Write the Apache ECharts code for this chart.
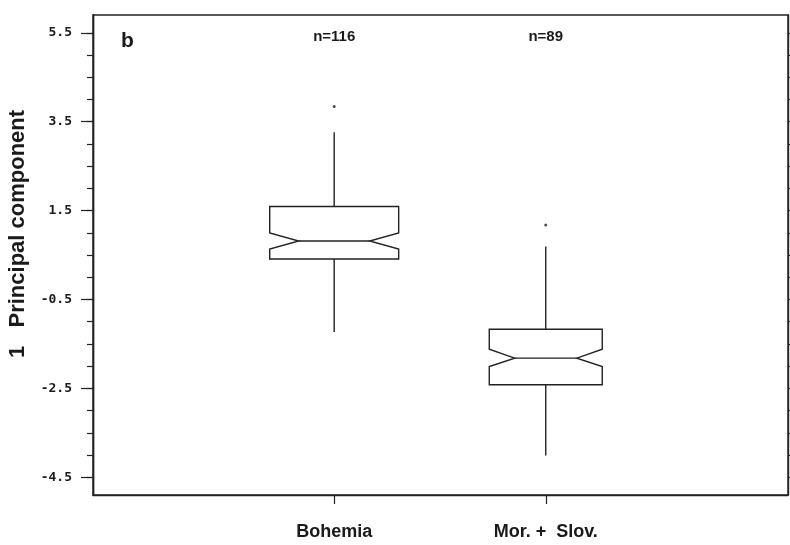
<!DOCTYPE html>
<html><head><meta charset="utf-8">
<script src="https://cdn.jsdelivr.net/npm/echarts@6/dist/echarts.min.js"></script>
<style>html,body{margin:0;padding:0;background:#fff}#c{width:790px;height:545px}</style>
</head><body><div id="c"></div>
<script>
// ---- data ----
const categories = ['Bohemia', 'Mor. +  Slov.'];
const groupN = [116, 89];
const whiskerLow = [-1.23, -4.01];
const quartile1 = [0.41, -2.42];
const medians = [0.815, -1.82];
const quartile3 = [1.59, -1.17];
const whiskerHigh = [3.26, 0.69];
const notchLow = [0.635, -2.01];
const notchHigh = [0.995, -1.62];
const outlierGroup = [0, 1];
const outlierValue = [3.84, 1.175];
const yMajorTicks = [5.5, 3.5, 1.5, -0.5, -2.5, -4.5];
const yMinorTicks = [5.5, 5, 4.5, 4, 3.5, 3, 2.5, 2, 1.5, 1, 0.5, 0, -0.5, -1, -1.5, -2, -2.5, -3, -3.5, -4, -4.5];
const xTickPositions = [1, 2];

// ---- style constants ----
const INK = '#222';
const WIDTH_PER_SQRT_N = 0.0566;
const NOTCH_RATIO = 0.55;

const boxData = categories.map((c, i) => [i + 1, whiskerLow[i], quartile1[i], medians[i], quartile3[i], whiskerHigh[i], notchLow[i], notchHigh[i], groupN[i]]);
const outlierData = outlierGroup.map((g, i) => [g + 1, outlierValue[i]]);

const chart = echarts.init(document.getElementById('c'), null, {renderer: 'canvas'});

const yBase = {
  type: 'value', min: -4.9, max: 5.9, splitLine: {show: false}, offset: 0,
  axisLine: {show: true, onZero: false, lineStyle: {color: INK, width: 1.4}}
};

chart.setOption({
  animation: false,
  backgroundColor: '#fff',
  grid: {left: 93, right: 2, top: 15, bottom: 50, show: true, borderColor: INK, borderWidth: 1.4, backgroundColor: 'transparent'},
  xAxis: [{
    type: 'value', min: -0.14, max: 3.145, splitLine: {show: false},
    axisLine: {show: true, onZero: false, lineStyle: {color: INK, width: 1.4}},
    axisTick: {show: true, customValues: xTickPositions, length: 9, lineStyle: {color: INK, width: 1.2}},
    axisLabel: {customValues: xTickPositions, margin: 28, formatter: v => categories[Math.round(v) - 1] || '',
      color: '#1a1a1a', fontFamily: 'Liberation Sans', fontWeight: 'bold', fontSize: 18}
  }],
  yAxis: [
    Object.assign({}, yBase, {
      position: 'left',
      axisTick: {show: true, customValues: yMinorTicks, length: 6, lineStyle: {color: INK, width: 1.2}},
      axisLabel: {customValues: yMajorTicks, margin: 21, formatter: v => v.toFixed(1),
        color: '#1a1a1a', fontFamily: 'DejaVu Sans Mono', fontWeight: 'bold', fontSize: 13}
    }),
    Object.assign({}, yBase, {
      position: 'left',
      axisTick: {show: true, customValues: yMajorTicks, length: 12, lineStyle: {color: INK, width: 1.2}},
      axisLabel: {show: false}
    }),
    Object.assign({}, yBase, {
      position: 'right',
      axisTick: {show: true, customValues: yMinorTicks, length: 6, lineStyle: {color: INK, width: 1.2}},
      axisLabel: {show: false}
    })
  ],
  graphic: [
    {type: 'text', x: 18, y: 234, rotation: Math.PI / 2,
      style: {text: '1   Principal component', fill: '#1a1a1a', font: 'bold 22px "Liberation Sans"', textAlign: 'center', textVerticalAlign: 'middle'}},
    {type: 'text', x: 121, y: 41,
      style: {text: 'b', fill: '#1a1a1a', font: 'bold 21px "Liberation Sans"', textAlign: 'left', textVerticalAlign: 'middle'}}
  ],
  series: [
    {
      type: 'custom', xAxisIndex: 0, yAxisIndex: 0,
      data: boxData,
      encode: {x: 0, y: [1, 2, 3, 4, 5, 6, 7]},
      renderItem: function (params, api) {
        const x = api.value(0);
        const wl = api.value(1), q1 = api.value(2), med = api.value(3), q3 = api.value(4), wh = api.value(5);
        const nl = api.value(6), nh = api.value(7), n = api.value(8);
        const half = WIDTH_PER_SQRT_N * Math.sqrt(n) / 2;
        const inner = half * NOTCH_RATIO;
        const p = (dx, v) => api.coord([x + dx, v]);
        const pts = [p(-half, q3), p(half, q3), p(half, nh), p(inner, med), p(half, nl), p(half, q1),
                     p(-half, q1), p(-half, nl), p(-inner, med), p(-half, nh)];
        const c = p(0, med);
        const top = p(0, wh), bq3 = p(0, q3), bq1 = p(0, q1), bot = p(0, wl);
        const ml = p(-inner, med), mr = p(inner, med);
        const ls = {stroke: INK, lineWidth: 1.4, fill: null};
        return {type: 'group', children: [
          {type: 'line', shape: {x1: top[0], y1: top[1], x2: bq3[0], y2: bq3[1]}, style: ls},
          {type: 'line', shape: {x1: bq1[0], y1: bq1[1], x2: bot[0], y2: bot[1]}, style: ls},
          {type: 'polygon', shape: {points: pts}, style: {fill: '#fff', stroke: INK, lineWidth: 1.4}},
          {type: 'line', shape: {x1: ml[0], y1: ml[1], x2: mr[0], y2: mr[1]}, style: ls},
          {type: 'text', x: c[0], y: params.coordSys.y + 22,
            style: {text: 'n=' + n, fill: '#1a1a1a', font: 'bold 15px "Liberation Sans"', textAlign: 'center', textVerticalAlign: 'middle'}}
        ]};
      }
    },
    {
      type: 'scatter', xAxisIndex: 0, yAxisIndex: 0,
      data: outlierData, symbol: 'circle', symbolSize: 3,
      itemStyle: {color: INK}
    }
  ]
});
</script>
</body></html>
